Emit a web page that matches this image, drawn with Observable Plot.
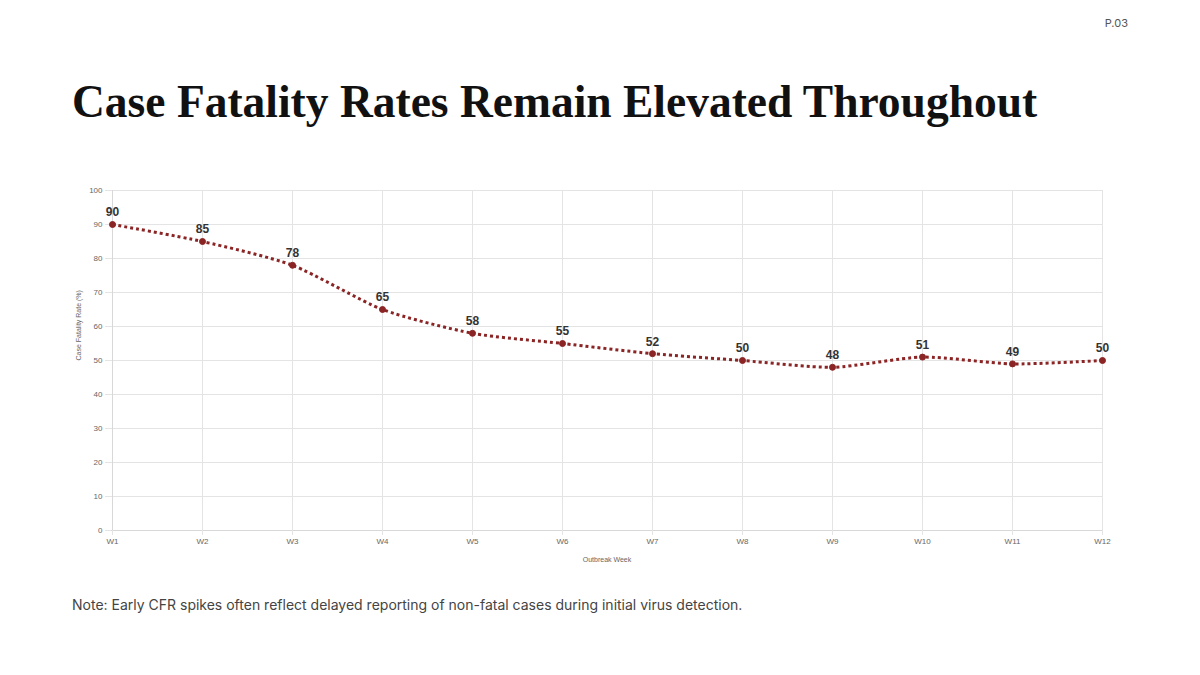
<!DOCTYPE html>
<html>
<head>
<meta charset="utf-8">
<script src="https://cdn.jsdelivr.net/npm/d3@7"></script>
<script src="https://cdn.jsdelivr.net/npm/@observablehq/plot@0.6"></script>
<style>
  html, body { margin: 0; padding: 0; background: #fff; }
  body { width: 1200px; height: 675px; position: relative; overflow: hidden; font-family: Inter, "DejaVu Sans", sans-serif; }
  #page { position: absolute; right: 72px; top: 16px; font-size: 11px; color: #555; }
  #title { position: absolute; left: 72px; top: 75px; margin: 0; font-family: "Liberation Serif", serif; font-weight: bold; font-size: 45.5px; color: #111; white-space: nowrap; }
  #chart { position: absolute; left: 0; top: 175px; }
  #note { position: absolute; left: 72px; top: 596px; font-size: 14px; color: #444; }
</style>
</head>
<body>
<div id="page">P.03</div>
<h1 id="title">Case Fatality Rates Remain Elevated Throughout</h1>
<div id="chart"></div>
<div id="note">Note: Early CFR spikes often reflect delayed reporting of non-fatal cases during initial virus detection.</div>
<script>
const weeks = ["W1","W2","W3","W4","W5","W6","W7","W8","W9","W10","W11","W12"];
const cfr = [90, 85, 78, 65, 58, 55, 52, 50, 48, 51, 49, 50];
const yTicks = [0,10,20,30,40,50,60,70,80,90,100];

const data = weeks.map((w, i) => ({week: w, value: cfr[i]}));
const red = "#8b2424";

const chart = Plot.plot({
  width: 1200,
  height: 400,
  marginLeft: 111,
  marginRight: 98,
  marginTop: 15,
  marginBottom: 45,
  style: {fontFamily: "Helvetica, Arial, 'Liberation Sans', sans-serif", fontSize: "8px", color: "#666"},
  x: {type: "point", domain: weeks, padding: 0, label: null},
  y: {domain: [0, 100], ticks: yTicks, label: null},
  marks: [
    Plot.gridY(yTicks, {stroke: "#e4e4e4", strokeOpacity: 1}),
    Plot.gridX(weeks, {stroke: "#e4e4e4", strokeOpacity: 1}),
    Plot.ruleX([weeks[0]], {y1: 0, y2: 100, stroke: "#d8d8d8"}),
    Plot.ruleY([0], {stroke: "#d8d8d8"}),
    Plot.axisY(yTicks, {tickSize: 6, stroke: "#e4e4e4", strokeOpacity: 1, tickPadding: 3, fill: "#666", fontSize: 8}),
    Plot.axisX(weeks, {tickSize: 5, stroke: "#e4e4e4", strokeOpacity: 1, tickPadding: 3, fill: "#666", fontSize: 8}),
    Plot.text(["Case Fatality Rate (%)"], {frameAnchor: "left", dx: -33, rotate: -90, fill: "#666", fontSize: 7}),
    Plot.text(["Outbreak Week"], {frameAnchor: "bottom", dy: 31, fill: "#666", fontSize: 7}),
    Plot.line(data, {x: "week", y: "value", stroke: red, strokeWidth: 3, strokeDasharray: "3,3", strokeLinecap: "butt", curve: "cardinal", tension: 0.3}),
    Plot.dot(data, {x: "week", y: "value", r: 3, fill: red, stroke: red, strokeWidth: 1}),
    Plot.text(data, {x: "week", y: "value", text: d => String(d.value), dy: -12, fontSize: 12, fontWeight: "bold", fill: "#333"})
  ]
});
document.getElementById("chart").appendChild(chart);
</script>
</body>
</html>
